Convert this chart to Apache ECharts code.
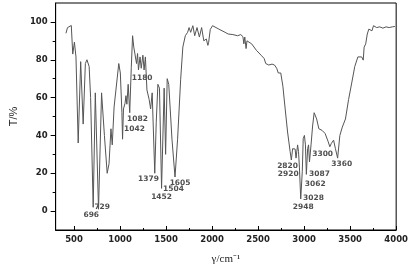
<!DOCTYPE html>
<html>
<head>
<meta charset="utf-8">
<script src="https://cdn.jsdelivr.net/npm/echarts@6/dist/echarts.min.js"></script>
<style>html,body{margin:0;padding:0;background:#fff}#c{width:411px;height:270px}</style>
</head>
<body>
<div id="c"></div>
<script>
var wavenumbers = [412,429,450,470,486,504,521,545,572,599,623,640,664,680,708,731,766,799,830,860,880,901,915,935,986,1003,1020,1027,1037,1054,1064,1074,1088,1105,1122,1136,1149,1166,1179,1190,1200,1217,1230,1248,1261,1275,1292,1316,1332,1349,1377,1393,1411,1428,1451,1479,1495,1512,1529,1564,1597,1625,1658,1682,1709,1734,1750,1767,1791,1811,1836,1862,1886,1910,1937,1954,1962,1980,2005,2022,2073,2141,2175,2226,2277,2311,2335,2345,2355,2369,2379,2396,2430,2481,2532,2565,2583,2616,2651,2678,2702,2719,2746,2769,2794,2820,2848,2861,2875,2888,2902,2912,2929,2939,2949,2963,2980,2990,3003,3014,3024,3038,3048,3058,3075,3092,3109,3120,3136,3160,3194,3228,3262,3279,3296,3320,3340,3364,3388,3415,3449,3483,3517,3550,3584,3601,3625,3642,3652,3669,3686,3703,3720,3737,3754,3788,3822,3856,3890,3924,3958,3986];
var transmittance = [94,97,97.4,98.1,83,89.3,81.5,36,79,46,78,80,76.4,60,2,62.5,1,62.5,40,20,25,43.5,35,55,78,73,52,38,54,57,61,56.5,67,52,76,92.7,86.7,86.7,78,83.3,74.6,81.5,75.5,82.4,74.6,81.5,64,59,54,62.5,20,47,67,65,12,65,30,70,67,38,18,38,69.4,86.7,92.7,94.5,97,94.5,98,92.7,97,92,97,90,91,87.6,89,96,98,97.4,96.2,94.5,93.6,93.3,92.7,93.3,92.2,88.4,92,85.9,90,90,88.4,85,82.4,80.7,78,77.2,77.7,77.2,75.5,73,73,66,54,41.8,31.4,27,33,34,32.8,28,35,31.4,22.8,6.4,21,38.3,40,35,19.4,33,35,26,35,45,52,52.5,48.7,43.5,42.7,41,36.6,34,35.8,37.5,33,28,40,44.4,48.7,59,67.7,76.4,81.5,82.4,81.5,79.8,86.7,88.4,93.6,96.2,97,95.3,98,97,97.4,96.7,97.4,97,97.4,97.6];
var peakLabels = ['696','729','1042','1082','1180','1379','1452','1504','1605','2820','2920','2948','3028','3062','3087','3300','3360'];
var peakLabelX = [687,806,1156,1190,1240,1309,1451,1581,1652,2820,2827,2990,3102,3120,3167,3201,3408];
var peakLabelY = [-2.2,1.9,43.2,48.5,70.3,16.8,7.6,11.4,15,23.7,19.7,1.9,6.9,14.4,19.7,29.9,25];
var xMajorTicks = [500,1000,1500,2000,2500,3000,3500,4000];
var xMinorTicks = [750,1250,1750,2250,2750,3250,3750];
var yMajorTicks = [0,20,40,60,80,100];
var yMinorTicks = [10,30,50,70,90];

var lineData = wavenumbers.map(function(w,i){return [w, transmittance[i]];});
var labelData = peakLabels.map(function(t,i){return {name:t, value:[peakLabelX[i], peakLabelY[i]]};});

var chart = echarts.init(document.getElementById('c'), null, {renderer:'canvas'});
var lblFont = {color:'#222', fontSize:8.5, fontWeight:'bold', fontFamily:'DejaVu Sans'};
var plain = function(v){return String(v);};
chart.setOption({
  animation:false,
  backgroundColor:'#fff',
  grid:{left:36, right:12, top:3, bottom:35, show:true, borderColor:'#000', borderWidth:1},
  xAxis:[{
    type:'value', min:300, max:4000, position:'bottom',
    name:'γ/cm⁻¹', nameLocation:'middle', nameGap:24,
    nameTextStyle:{fontFamily:'Liberation Serif', fontSize:11, color:'#222'},
    axisLine:{show:true, onZero:false, lineStyle:{color:'#000', width:1}},
    axisTick:{show:true, inside:true, length:4, lineStyle:{color:'#000'}, customValues:xMajorTicks},
    axisLabel:Object.assign({margin:5, customValues:xMajorTicks, formatter:plain}, lblFont),
    splitLine:{show:false}
  },{
    type:'value', min:300, max:4000, position:'bottom',
    axisLine:{show:false, onZero:false},
    axisTick:{show:true, inside:true, length:2, lineStyle:{color:'#000'}, customValues:xMinorTicks},
    axisLabel:{show:false},
    splitLine:{show:false}
  }],
  yAxis:[{
    type:'value', min:-10, max:110, position:'left',
    name:'T/%', nameLocation:'middle', nameGap:26, nameRotate:90,
    nameTextStyle:{fontFamily:'Liberation Sans', fontSize:11, color:'#222'},
    axisLine:{show:true, onZero:false, lineStyle:{color:'#000', width:1}},
    axisTick:{show:true, inside:false, length:5, lineStyle:{color:'#000'}, customValues:yMajorTicks},
    axisLabel:Object.assign({margin:8, customValues:yMajorTicks, formatter:plain}, lblFont),
    splitLine:{show:false}
  },{
    type:'value', min:-10, max:110, position:'left',
    axisLine:{show:false, onZero:false},
    axisTick:{show:true, inside:false, length:3, lineStyle:{color:'#000'}, customValues:yMinorTicks},
    axisLabel:{show:false},
    splitLine:{show:false}
  }],
  series:[{
    type:'line', xAxisIndex:0, yAxisIndex:0, data:lineData,
    symbol:'none', smooth:false,
    lineStyle:{color:'#555', width:1}
  },{
    type:'scatter', xAxisIndex:0, yAxisIndex:0, data:labelData,
    symbolSize:0, silent:true,
    label:{show:true, position:'inside', formatter:'{b}', color:'#222', fontSize:7.5, fontWeight:'bold', fontFamily:'DejaVu Sans'}
  }]
});
</script>
</body>
</html>
